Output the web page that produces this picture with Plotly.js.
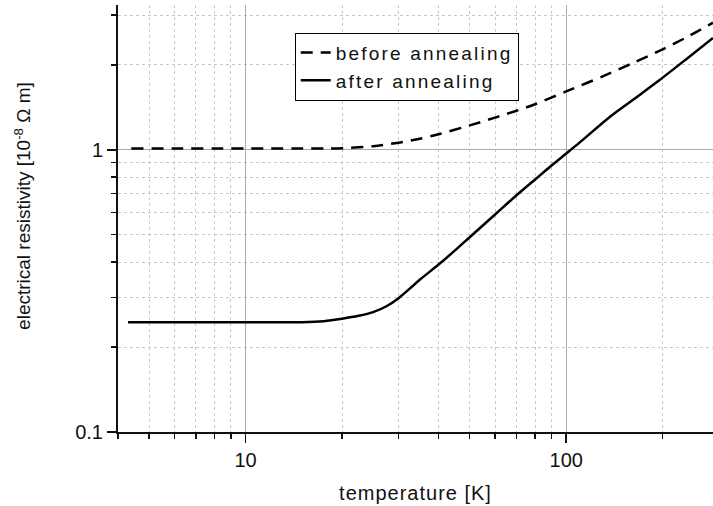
<!DOCTYPE html>
<html>
<head>
<meta charset="utf-8">
<script src="https://cdn.plot.ly/plotly-3.0.1.min.js"></script>
<style>
html,body{margin:0;padding:0;background:#fff}
#chart{width:713px;height:506px}
.legendtext{letter-spacing:2.2px}
.xtitle{letter-spacing:1px}
</style>
</head>
<body>
<div id="chart"></div>
<script>
// temperature [K] and resistivity [1e-8 Ohm m]
var beforeT = [4.4, 6, 8, 10, 12, 15, 18, 20, 25, 30, 35, 40, 50, 60, 70, 80, 100, 130, 160, 200, 240, 287];
var beforeR = [1.01, 1.01, 1.01, 1.01, 1.01, 1.01, 1.01, 1.012, 1.03, 1.06, 1.095, 1.135, 1.22, 1.30, 1.375, 1.45, 1.61, 1.82, 2.02, 2.27, 2.52, 2.82];
var afterT = [4.3, 6, 8, 10, 12, 15, 17.5, 20, 22.5, 25, 27.5, 30, 32.5, 35, 40, 45, 50, 60, 70, 80, 90, 100, 110, 137, 165, 196, 240, 287];
var afterR = [0.245, 0.245, 0.245, 0.245, 0.245, 0.245, 0.247, 0.252, 0.258, 0.266, 0.279, 0.298, 0.322, 0.347, 0.392, 0.44, 0.49, 0.59, 0.69, 0.785, 0.88, 0.97, 1.06, 1.31, 1.53, 1.77, 2.12, 2.49];
var xTitle = 'temperature [K]';
var yTitle = 'electrical resistivity [10<sup>-8</sup> \u03A9 m]';
var names = ['before annealing', 'after annealing'];

var font = 'Liberation Sans, Arial, sans-serif';
var traces = [
  {x: beforeT, y: beforeR, name: names[0], mode: 'lines', type: 'scatter',
   line: {color: '#000', width: 2.5, dash: '12px,8px', shape: 'spline', smoothing: 0.8}},
  {x: afterT, y: afterR, name: names[1], mode: 'lines', type: 'scatter',
   line: {color: '#000', width: 2.5, shape: 'spline', smoothing: 0.8}}
];
var layout = {
  width: 713, height: 506,
  margin: {l: 118, r: 0, t: 5, b: 74},
  paper_bgcolor: '#fff', plot_bgcolor: '#fff',
  font: {family: font, color: '#111', size: 19},
  showlegend: true,
  legend: {x: 0.297, y: 0.935, xanchor: 'left', yanchor: 'top',
    bordercolor: '#000', borderwidth: 1, bgcolor: '#fff',
    font: {family: font, size: 19, color: '#111'}, tracegroupgap: 0},
  xaxis: {
    type: 'log', range: [Math.log10(4), Math.log10(287)], dtick: 1,
    showline: true, linecolor: '#111', linewidth: 2,
    ticks: 'outside', ticklen: 9, tickwidth: 1.5, tickcolor: '#111',
    showgrid: true, gridcolor: '#aaa', gridwidth: 1, zeroline: false,
    tickfont: {size: 20},
    minor: {dtick: 'D1', ticks: 'outside', ticklen: 5, tickwidth: 1.5, tickcolor: '#111',
      showgrid: true, gridcolor: '#c8c8c8', griddash: 'dot', gridwidth: 1},
    title: {text: xTitle, font: {size: 20}, standoff: 16}
  },
  yaxis: {
    type: 'log', range: [-1, 0.513], dtick: 1,
    showline: true, linecolor: '#111', linewidth: 2,
    ticks: 'outside', ticklen: 9, tickwidth: 1.5, tickcolor: '#111',
    showgrid: true, gridcolor: '#aaa', gridwidth: 1, zeroline: false,
    tickfont: {size: 20},
    minor: {dtick: 'D1', ticks: 'outside', ticklen: 5, tickwidth: 1.5, tickcolor: '#111',
      showgrid: true, gridcolor: '#c8c8c8', griddash: 'dot', gridwidth: 1}
  },
  annotations: [{
    text: yTitle, xref: 'paper', yref: 'paper', x: -0.161, y: 0.53,
    xanchor: 'center', yanchor: 'middle', textangle: -90, showarrow: false,
    font: {family: font, size: 19, color: '#111'}
  }]
};
Plotly.newPlot('chart', traces, layout, {staticPlot: true});
</script>
</body>
</html>
